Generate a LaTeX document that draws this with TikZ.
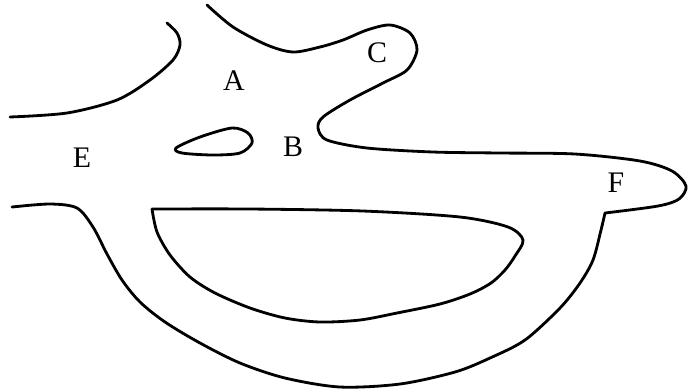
\documentclass[tikz,border=0pt]{standalone}
\usepackage{fontspec}
\setmainfont{Liberation Serif}
\usetikzlibrary{positioning}

\begin{document}
\begin{tikzpicture}[x=0.02cm,y=-0.02cm,
    rim/.style={line width=1.6pt,line join=round,line cap=round},
    lbl/.style={font=\fontsize{17}{19}\selectfont,inner sep=0pt}]
\useasboundingbox (0,0) rectangle (688,390);
% left shore
\draw[rim] plot[smooth] coordinates {(10,117) (67,113) (117,100) (150,80)
    (173,60) (180,45) (177,33) (167,23)};
% upper shore with the C and F bays
\draw[rim] plot[smooth] coordinates {(207,5) (233,27) (267,45) (293,52)
    (320,47) (343,40) (367,30) (390,25) (410,33) (417,50) (407,70) (383,83)
    (350,100) (323,117) (318,128) (327,140) (367,148) (433,152) (500,153)
    (575,154) (640,161) (672,171) (686,186) (679,199) (658,206) (605,213)}
  -- plot[smooth] coordinates {(605,213) (601,230) (593,260) (580,283)
    (560,308) (525,340) (490,358) (455,372) (400,384) (340,387) (285,378)
    (240,363) (200,343) (165,322) (140,302) (122,280) (107,254) (93,227)
    (77,208) (50,204) (12,207)};
% island
\draw[rim] plot[smooth cycle] coordinates {(176,148) (200,137) (232,128)
    (248,133) (252,143) (240,153) (213,155) (182,153)};
% big island
\draw[rim] plot[smooth] coordinates {(152,209) (250,209) (363,211) (460,217)
    (508,227) (523,240) (515,256) (505,270) (491,283) (470,294) (440,304)
    (397,313) (360,320) (320,322) (285,318) (250,308) (215,293) (190,277)
    (170,255) (157,232) (152,209)};
\node[lbl] (a) at (234,81) {A};
\node[lbl] (b) at (293,147) {B};
\node[lbl] (c) at (377,53) {C};
\node[lbl] (e) at (82,158) {E};
\node[lbl] (f) at (616,183) {F};
\end{tikzpicture}
\end{document}
